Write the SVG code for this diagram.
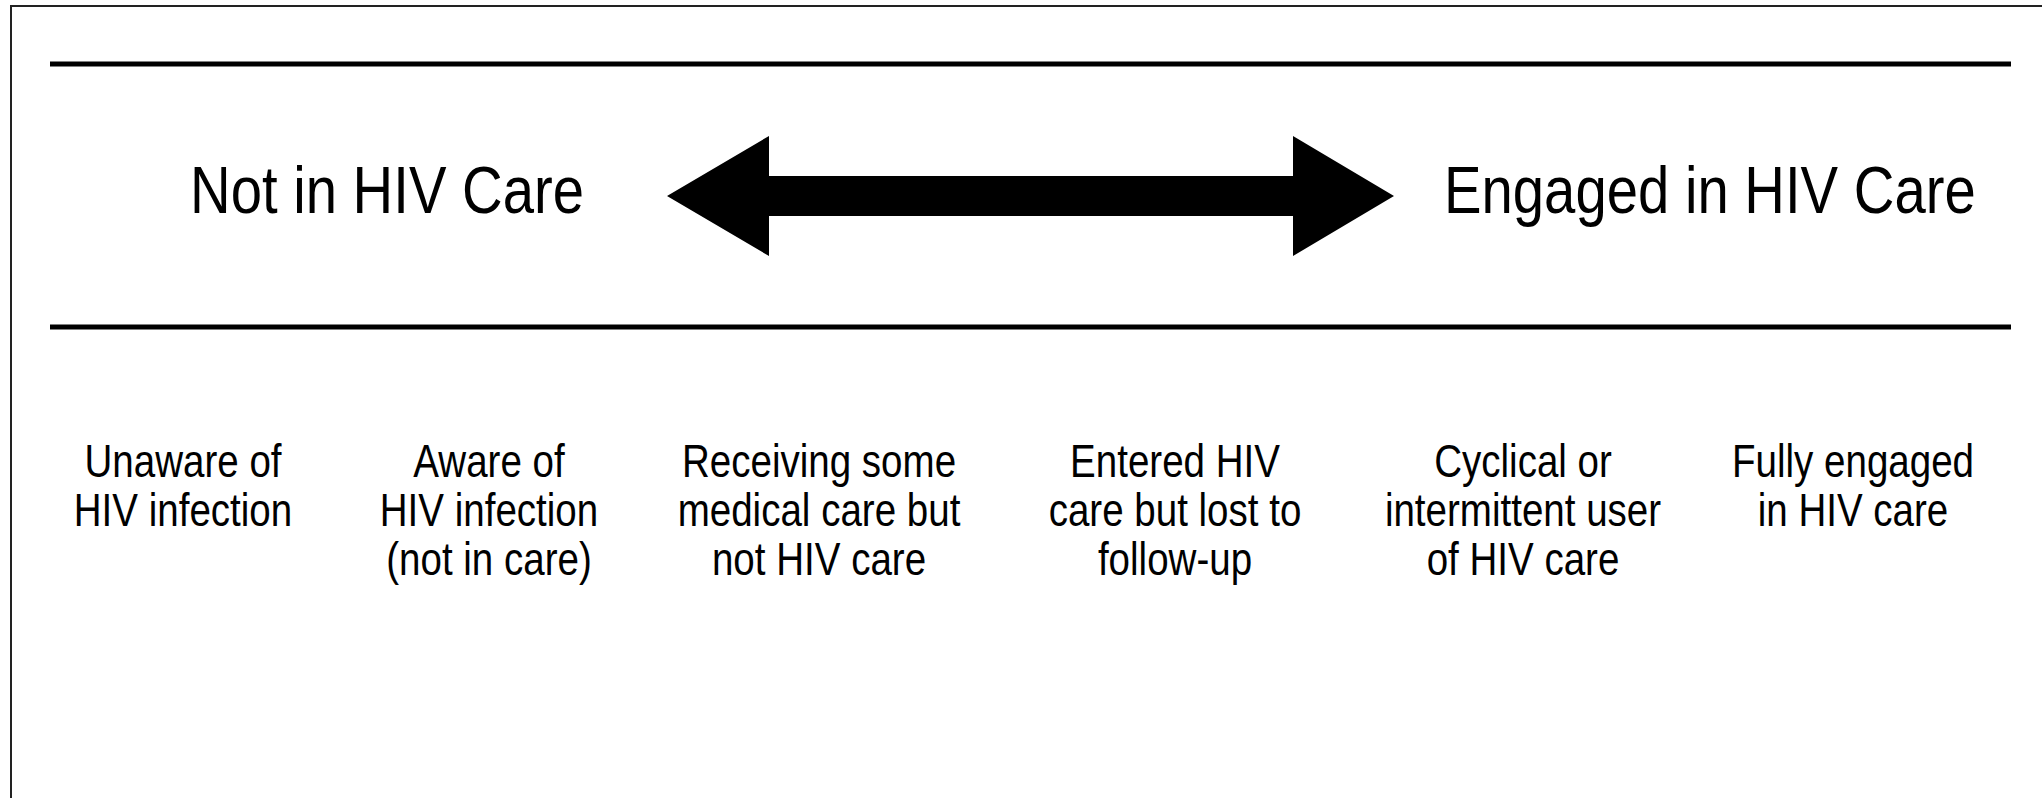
<svg xmlns="http://www.w3.org/2000/svg" width="2042" height="798" viewBox="0 0 2042 798">
<style>
.title{font-family:"Liberation Sans",Arial,sans-serif;font-size:67px;fill:#000}
.lbl{font-family:"Liberation Sans",Arial,sans-serif;font-size:47px;fill:#000;text-anchor:middle}
.rule{stroke:#000;stroke-width:5;fill:none}
</style>
<rect x="0" y="0" width="2042" height="798" fill="#fff"/>
<path d="M11,798 V6 H2042" fill="none" stroke="#222" stroke-width="2"/>
<g id="rules">
<line class="rule" x1="50" y1="64" x2="2011" y2="64"/>
<line class="rule" x1="50" y1="327" x2="2011" y2="327"/>
</g>
<g id="not-in-care" transform="translate(190,213) scale(0.84,1)"><text class="title" x="0" y="0">Not in HIV Care</text></g>
<g id="engaged" transform="translate(1444,213) scale(0.84,1)"><text class="title" x="0" y="0">Engaged in HIV Care</text></g>
<g id="connectors">
<polygon points="667,196 769,136 769,176 1293,176 1293,136 1394,196 1293,256 1293,216 769,216 769,256" fill="#000"/>
</g>
<g id="col1" transform="translate(183,0) scale(0.82,1)">
<text class="lbl" x="0" y="477">Unaware of</text>
<text class="lbl" x="0" y="526">HIV infection</text>
</g>
<g id="col2" transform="translate(489,0) scale(0.82,1)">
<text class="lbl" x="0" y="477">Aware of</text>
<text class="lbl" x="0" y="526">HIV infection</text>
<text class="lbl" x="0" y="575">(not in care)</text>
</g>
<g id="col3" transform="translate(819,0) scale(0.82,1)">
<text class="lbl" x="0" y="477">Receiving some</text>
<text class="lbl" x="0" y="526">medical care but</text>
<text class="lbl" x="0" y="575">not HIV care</text>
</g>
<g id="col4" transform="translate(1175,0) scale(0.82,1)">
<text class="lbl" x="0" y="477">Entered HIV</text>
<text class="lbl" x="0" y="526">care but lost to</text>
<text class="lbl" x="0" y="575">follow-up</text>
</g>
<g id="col5" transform="translate(1523,0) scale(0.82,1)">
<text class="lbl" x="0" y="477">Cyclical or</text>
<text class="lbl" x="0" y="526">intermittent user</text>
<text class="lbl" x="0" y="575">of HIV care</text>
</g>
<g id="col6" transform="translate(1853,0) scale(0.82,1)">
<text class="lbl" x="0" y="477">Fully engaged</text>
<text class="lbl" x="0" y="526">in HIV care</text>
</g>
</svg>
